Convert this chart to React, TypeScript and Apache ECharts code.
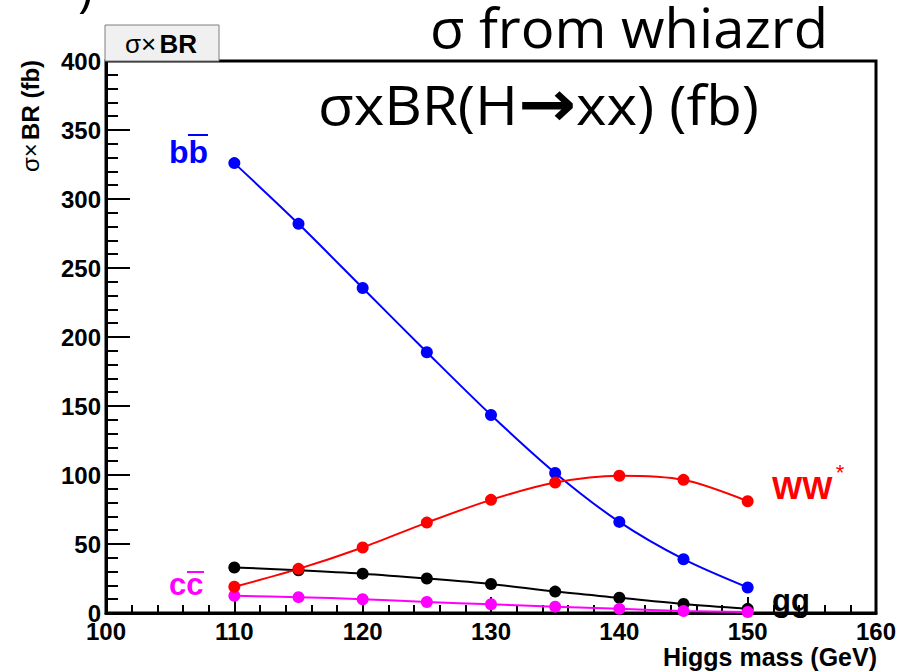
import React, { useEffect, useRef } from "react";
import * as echarts from "echarts";

// Higgs mass points (GeV)
const massGeV = [110, 115, 120, 125, 130, 135, 140, 145, 150];

// sigma x BR for each decay channel (fb)
const bbValues = [326, 282, 235.5, 189, 143.5, 101.5, 66, 39, 18.5];
const wwValues = [19, 32, 47.5, 65.5, 82, 94.5, 99.5, 96.5, 81];
const ggValues = [33, 31, 28.5, 25, 21, 15.5, 11, 6.5, 3];
const ccValues = [12.5, 11.5, 10, 8, 6.3, 4.6, 3, 1.5, 0.7];

const yTicks = { min: 0, max: 400, interval: 50 };
const xTicks = { min: 100, max: 160, interval: 10 };

const LABEL_FONT = "'Liberation Sans', Arial, Helvetica, sans-serif";
const SLIDE_FONT = "'Open Sans', 'Noto Sans', sans-serif";

function pairs(values: number[]) {
  return massGeV.map((m, i) => [m, values[i]]);
}

function channel(name: string, values: number[], color: string) {
  return {
    name,
    type: "line",
    data: pairs(values),
    smooth: 0.3,
    symbol: "circle",
    symbolSize: 12,
    lineStyle: { color, width: 2 },
    itemStyle: { color },
  };
}

export default function App() {
  const ref = useRef<HTMLDivElement>(null);

  useEffect(() => {
    if (!ref.current) return;
    const chart = echarts.init(ref.current, undefined, { renderer: "svg" });

    chart.setOption({
      animation: false,
      backgroundColor: "#ffffff",
      grid: {
        left: 106,
        right: 33,
        top: 61,
        bottom: 59,
        show: true,
        borderColor: "#000",
        borderWidth: 3,
        outerBoundsMode: "none",
      },
      xAxis: {
        type: "value",
        min: xTicks.min,
        max: xTicks.max,
        interval: xTicks.interval,
        axisLine: { show: true, lineStyle: { color: "#000", width: 3 } },
        axisTick: { show: true, inside: true, length: 16, lineStyle: { color: "#000", width: 2 } },
        minorTick: { show: true, splitNumber: 5, length: 8, lineStyle: { color: "#000", width: 2 } },
        splitLine: { show: false },
        axisLabel: {
          color: "#000",
          fontFamily: LABEL_FONT,
          fontWeight: "bold",
          fontSize: 24,
          margin: 6,
        },
      },
      yAxis: {
        type: "value",
        min: yTicks.min,
        max: yTicks.max,
        interval: yTicks.interval,
        axisLine: { show: true, lineStyle: { color: "#000", width: 3 } },
        axisTick: { show: true, inside: true, length: 24, lineStyle: { color: "#000", width: 2 } },
        minorTick: { show: true, splitNumber: 5, length: 12, lineStyle: { color: "#000", width: 2 } },
        splitLine: { show: false },
        axisLabel: {
          color: "#000",
          fontFamily: LABEL_FONT,
          fontWeight: "bold",
          fontSize: 24,
          margin: 5,
        },
      },
      series: [
        channel("bb", bbValues, "#0000ff"),
        channel("gg", ggValues, "#000000"),
        channel("cc", ccValues, "#ff00ff"),
        channel("WW*", wwValues, "#ff0000"),
      ],
      graphic: [
        // plot title box
        {
          type: "rect",
          shape: { x: 105, y: 25, width: 114, height: 36 },
          style: { fill: "#f0f0f0", stroke: "#7f7f7f", lineWidth: 1 },
          z: 10,
        },
        {
          type: "text",
          x: 161,
          y: 44,
          style: {
            text: "{r|σ×} {b|BR}",
            align: "center",
            verticalAlign: "middle",
            rich: {
              r: { fontFamily: LABEL_FONT, fontSize: 26, fill: "#000" },
              b: { fontFamily: LABEL_FONT, fontSize: 26, fontWeight: "bold", fill: "#000" },
            },
          },
          z: 11,
        },
        // y axis title
        {
          type: "text",
          x: 30,
          y: 116,
          rotation: Math.PI / 2,
          style: {
            text: "{r|σ×} {b|BR (fb)}",
            align: "center",
            verticalAlign: "middle",
            rich: {
              r: { fontFamily: LABEL_FONT, fontSize: 24, fill: "#000" },
              b: { fontFamily: LABEL_FONT, fontSize: 24, fontWeight: "bold", fill: "#000" },
            },
          },
        },
        // x axis title
        {
          type: "text",
          x: 877,
          y: 657,
          style: {
            text: "Higgs mass (GeV)",
            align: "right",
            verticalAlign: "middle",
            fontFamily: LABEL_FONT,
            fontWeight: "bold",
            fontSize: 25,
            fill: "#000",
          },
        },
        // channel labels
        {
          type: "text",
          x: 169,
          y: 152,
          style: {
            text: "bb",
            align: "left",
            verticalAlign: "middle",
            fontFamily: LABEL_FONT,
            fontWeight: "bold",
            fontSize: 32,
            fill: "#0000ff",
          },
        },
        {
          type: "line",
          shape: { x1: 188, y1: 135, x2: 208, y2: 135 },
          style: { stroke: "#0000ff", lineWidth: 2 },
        },
        {
          type: "text",
          x: 169,
          y: 584,
          style: {
            text: "cc",
            align: "left",
            verticalAlign: "middle",
            fontFamily: LABEL_FONT,
            fontWeight: "bold",
            fontSize: 31,
            fill: "#ff00ff",
          },
        },
        {
          type: "line",
          shape: { x1: 187, y1: 572, x2: 204, y2: 572 },
          style: { stroke: "#ff00ff", lineWidth: 2 },
        },
        {
          type: "text",
          x: 772,
          y: 488,
          style: {
            text: "WW",
            align: "left",
            verticalAlign: "middle",
            fontFamily: LABEL_FONT,
            fontWeight: "bold",
            fontSize: 32,
            fill: "#ff0000",
          },
        },
        {
          type: "text",
          x: 840,
          y: 472,
          style: {
            text: "*",
            align: "center",
            verticalAlign: "middle",
            fontFamily: LABEL_FONT,
            fontSize: 22,
            fill: "#ff0000",
          },
        },
        {
          type: "text",
          x: 772,
          y: 600,
          style: {
            text: "gg",
            align: "left",
            verticalAlign: "middle",
            fontFamily: LABEL_FONT,
            fontWeight: "bold",
            fontSize: 31,
            fill: "#000",
          },
        },
        // slide annotations
        {
          type: "text",
          x: 430,
          y: 27,
          scaleX: 1.04,
          style: {
            text: "σ from whiazrd",
            align: "left",
            verticalAlign: "middle",
            fontFamily: SLIDE_FONT,
            fontSize: 54,
            lineHeight: 50,
            fill: "#000",
          },
          z: 12,
        },
        {
          type: "text",
          x: 318,
          y: 104,
          scaleX: 1.08,
          style: {
            text: "σxBR(H{a|→}xx) (fb)",
            align: "left",
            verticalAlign: "middle",
            fontFamily: SLIDE_FONT,
            fontSize: 54,
            fill: "#000",
            rich: {
              a: { fontFamily: "'DejaVu Sans', sans-serif", fontWeight: "bold", fontSize: 64, fill: "#000" },
            },
          },
          z: 12,
        },
        {
          type: "text",
          x: 78,
          y: 12,
          style: {
            text: ")",
            align: "left",
            verticalAlign: "bottom",
            fontFamily: SLIDE_FONT,
            fontSize: 50,
            fill: "#000",
          },
        },
      ],
    });

    return () => chart.dispose();
  }, []);

  return <div ref={ref} style={{ width: 909, height: 672, position: "absolute", left: 0, top: 0 }} />;
}
